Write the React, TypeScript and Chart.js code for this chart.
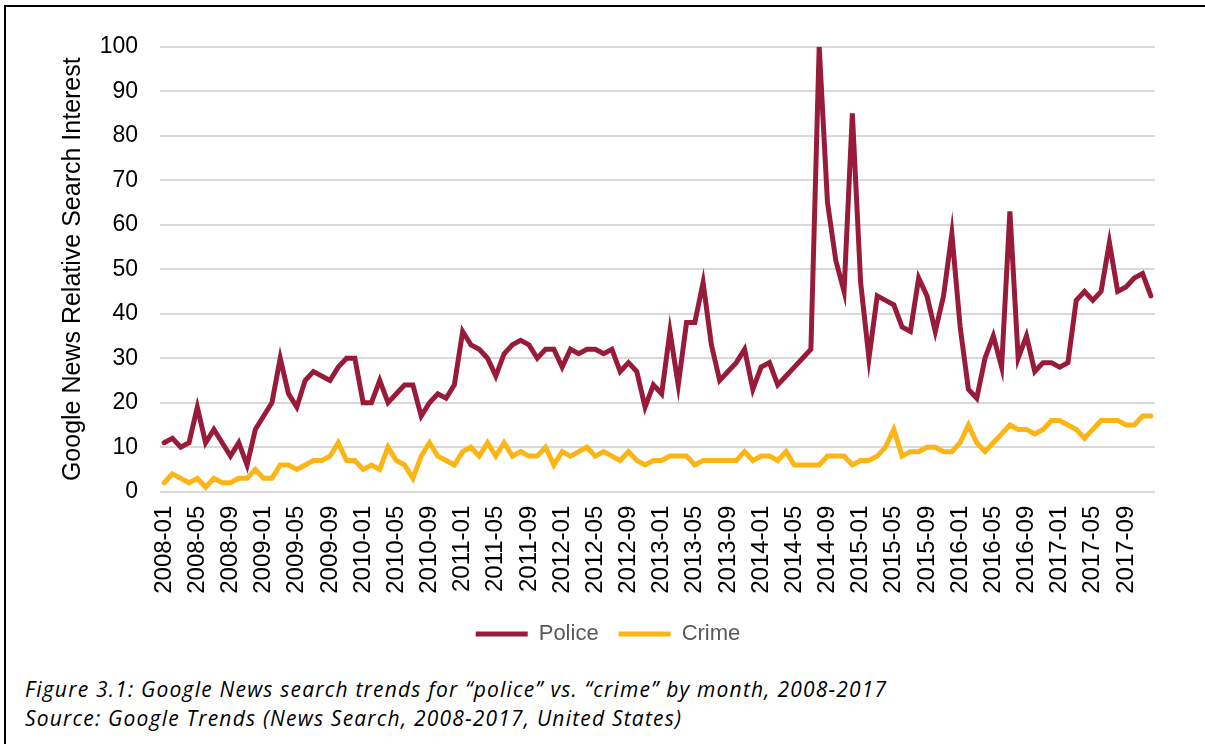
import React, { useEffect, useRef } from 'react';
import { Chart, registerables } from 'chart.js';

Chart.register(...registerables);

const YEARS = [2008, 2009, 2010, 2011, 2012, 2013, 2014, 2015, 2016, 2017];
const MONTHS = ['01', '02', '03', '04', '05', '06', '07', '08', '09', '10', '11', '12'];
const categories: string[] = YEARS.flatMap((y) => MONTHS.map((m) => `${y}-${m}`));

const policeValues = [
  11, 12, 10, 11, 19, 11, 14, 11, 8, 11, 6, 14,
  17, 20, 30, 22, 19, 25, 27, 26, 25, 28, 30, 30,
  20, 20, 25, 20, 22, 24, 24, 17, 20, 22, 21, 24,
  36, 33, 32, 30, 26, 31, 33, 34, 33, 30, 32, 32,
  28, 32, 31, 32, 32, 31, 32, 27, 29, 27, 19, 24,
  22, 36, 24, 38, 38, 47, 33, 25, 27, 29, 32, 23,
  28, 29, 24, 26, 28, 30, 32, 100, 65, 52, 45, 85,
  47, 30, 44, 43, 42, 37, 36, 48, 44, 36, 44, 58,
  37, 23, 21, 30, 35, 28, 63, 30, 35, 27, 29, 29,
  28, 29, 43, 45, 43, 45, 56, 45, 46, 48, 49, 44,
];

const crimeValues = [
  2, 4, 3, 2, 3, 1, 3, 2, 2, 3, 3, 5,
  3, 3, 6, 6, 5, 6, 7, 7, 8, 11, 7, 7,
  5, 6, 5, 10, 7, 6, 3, 8, 11, 8, 7, 6,
  9, 10, 8, 11, 8, 11, 8, 9, 8, 8, 10, 6,
  9, 8, 9, 10, 8, 9, 8, 7, 9, 7, 6, 7,
  7, 8, 8, 8, 6, 7, 7, 7, 7, 7, 9, 7,
  8, 8, 7, 9, 6, 6, 6, 6, 8, 8, 8, 6,
  7, 7, 8, 10, 14, 8, 9, 9, 10, 10, 9, 9,
  11, 15, 11, 9, 11, 13, 15, 14, 14, 13, 14, 16,
  16, 15, 14, 12, 14, 16, 16, 16, 15, 15, 17, 17,
];

const Y_MIN = 0;
const Y_MAX = 100;
const Y_STEP = 10;
const LABEL_EVERY = 4;

const yTitle = 'Google News Relative Search Interest';
const captionLines = [
  'Figure 3.1: Google News search trends for \u201cpolice\u201d vs. \u201ccrime\u201d by month, 2008-2017',
  'Source: Google Trends (News Search, 2008-2017, United States)',
];

const FONT = "'Liberation Sans', Arial, sans-serif";

export default function App() {
  const ref = useRef<HTMLCanvasElement | null>(null);

  useEffect(() => {
    if (!ref.current) return;
    const chart = new Chart(ref.current, {
      type: 'line',
      data: {
        labels: categories,
        datasets: [
          {
            label: 'Police',
            data: policeValues,
            borderColor: '#981B3A',
            backgroundColor: '#981B3A',
            borderWidth: 5,
            borderCapStyle: 'round',
            pointRadius: 0,
            tension: 0,
          },
          {
            label: 'Crime',
            data: crimeValues,
            borderColor: '#FDB515',
            backgroundColor: '#FDB515',
            borderWidth: 5,
            borderCapStyle: 'round',
            pointRadius: 0,
            tension: 0,
          },
        ],
      },
      options: {
        responsive: false,
        animation: false,
        layout: { padding: { left: 61, right: 50, top: 46.7, bottom: 0 } },
        plugins: {
          tooltip: { enabled: false },
          legend: {
            position: 'bottom',
            labels: {
              usePointStyle: true,
              pointStyle: 'line',
              pointStyleWidth: 52,
              padding: 20,
              color: '#595959',
              font: { family: FONT, size: 22 },
            },
          },
        },
        scales: {
          x: {
            offset: true,
            grid: { display: false, drawTicks: false },
            border: { display: false },
            ticks: {
              autoSkip: false,
              maxRotation: 90,
              minRotation: 90,
              padding: 14,
              color: '#000',
              font: { family: FONT, size: 24 },
              callback: (_v: any, i: number) => (i % LABEL_EVERY === 0 ? categories[i] : ''),
            },
            afterFit: (s: any) => {
              s.height = 111.3;
            },
          },
          y: {
            min: Y_MIN,
            max: Y_MAX,
            border: { display: false },
            grid: { color: '#d9d9d9', lineWidth: 2, drawTicks: false },
            ticks: {
              stepSize: Y_STEP,
              padding: 22,
              color: '#000',
              font: { family: FONT, size: 23 },
            },
            title: {
              display: true,
              text: yTitle,
              color: '#000',
              font: { family: FONT, size: 25, lineHeight: 0.5 },
              padding: { top: 6, bottom: 0 },
            },
            afterFit: (s: any) => {
              s.width = 99;
            },
          },
        },
      },
    });
    return () => chart.destroy();
  }, []);

  return (
    <div>
      <div
        style={{
          position: 'absolute',
          left: 4,
          top: 5,
          width: 1201,
          height: 739,
          boxSizing: 'border-box',
          borderLeft: '2px solid #000',
          borderTop: '2px solid #000',
        }}
      />
      <canvas
        ref={ref}
        width={1205}
        height={655}
        style={{ position: 'absolute', left: 0, top: 0, width: 1205, height: 655 }}
      />
      <div
        style={{
          position: 'absolute',
          left: 25,
          top: 675,
          fontFamily: "'Open Sans', sans-serif",
          fontStyle: 'italic',
          fontSize: 21,
          letterSpacing: '1.2px',
          lineHeight: '29px',
          color: '#000',
          whiteSpace: 'nowrap',
        }}
      >
        {captionLines.map((t) => (
          <div key={t}>{t}</div>
        ))}
      </div>
    </div>
  );
}
